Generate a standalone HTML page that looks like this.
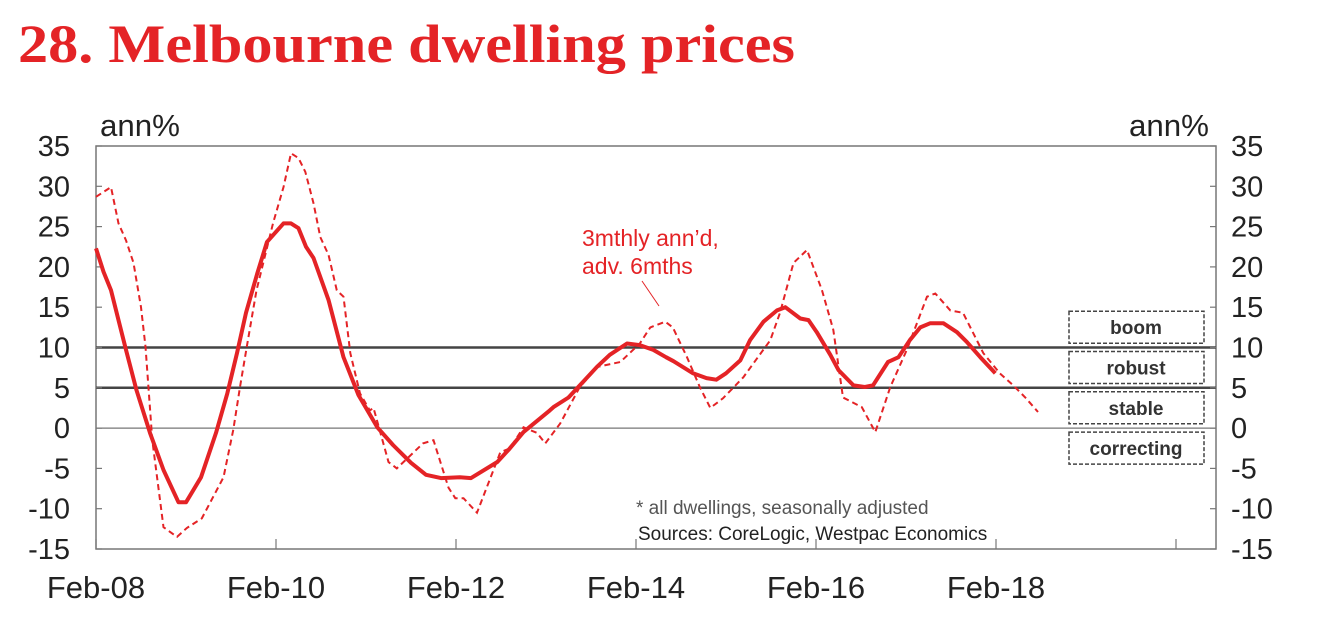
<!DOCTYPE html>
<html><head><meta charset="utf-8"><style>
html,body{margin:0;padding:0;background:#fff;width:1318px;height:620px;overflow:hidden}
svg{display:block;font-family:"Liberation Sans",Arial,sans-serif}
</style></head><body>
<svg id="chart" width="1318" height="620" viewBox="0 0 1318 620">
<text x="18" y="62" font-family="Liberation Serif,serif" font-weight="bold" font-size="54" fill="#e42326" textLength="777" lengthAdjust="spacingAndGlyphs">28. Melbourne dwelling prices</text>
<g id="axes"></g>
<g id="series"></g>
<text x="100" y="136" font-size="31" fill="#222" textLength="80" lengthAdjust="spacingAndGlyphs">ann%</text>
<text x="1129" y="136" font-size="31" fill="#222" textLength="80" lengthAdjust="spacingAndGlyphs">ann%</text>
<text x="582" y="246" font-size="23" fill="#e42326">3mthly ann’d,</text>
<text x="582" y="274" font-size="23" fill="#e42326">adv. 6mths</text>
<line x1="642" y1="281" x2="659" y2="306" stroke="#e42326" stroke-width="1"/>
<text x="636" y="514" font-size="19" fill="#555">* all dwellings, seasonally adjusted</text>
<text x="638" y="540" font-size="19" fill="#222">Sources: CoreLogic, Westpac Economics</text>
<g id="zones"></g>
</svg>
<script>
const yTicks=[35,30,25,20,15,10,5,0,-5,-10,-15];
const xTickLabels=["Feb-08","Feb-10","Feb-12","Feb-14","Feb-16","Feb-18",""];
const xTickMonths=[0,24,48,72,96,120,144];
const solidMonths=[0,1,2,3,4,5.4,7.2,9,11,12,14,16,17.5,18.8,20,21.5,22.8,25,26,27,28,29,31,33,35,37.5,39.6,42,44,46,48.5,50,53.5,55,57,60.5,61,63,64.5,66.8,68.5,70.8,72.5,74.3,76,77,79.6,81.4,82.7,84,85.9,87.2,89,90.8,91.9,93.9,95,96.1,97.9,99,101,102.5,103.6,105.6,107,108.5,109.9,111.2,113,114.8,116.1,117.9,119.9];
const solidValues=[22.3,19.4,17.1,13.4,9.7,4.7,-0.6,-5.2,-9.2,-9.2,-6.1,-0.6,4.3,9.3,14.3,19.2,23.1,25.4,25.4,24.8,22.5,21.1,15.9,8.8,4.1,0.1,-2.1,-4.3,-5.8,-6.2,-6.1,-6.2,-4.2,-2.7,-0.5,2.2,2.6,3.8,5.3,7.6,9.1,10.5,10.3,9.7,8.8,8.3,6.8,6.2,6.0,6.8,8.4,10.9,13.2,14.6,15.0,13.6,13.4,11.9,9.1,7.2,5.3,5.1,5.3,8.2,8.8,10.9,12.5,13.0,13.0,11.9,10.7,8.8,6.8];
const dashMonths=[0,2,3,4,5,6,6.6,7.5,9,10.8,12.1,14.1,17,18.3,19.2,20.1,21.4,23.6,25,26,27,27.9,29,29.9,31,32.1,33,33.9,35.2,36.5,37,39,40.1,43.6,45,47,47.9,49,50.8,53.9,55.2,57,58.8,59.9,61.9,64.5,66.9,69.9,72.5,73.9,75.9,76.9,78.8,80.5,81.9,83.6,86.3,89.9,91.2,93,94.8,96.8,98.3,99.6,102.1,103.9,105.9,108.1,110.8,111.9,113.9,115.6,118.3,120.5,122.3,123.9,125.6];
const dashValues=[28.7,29.9,25.4,23.3,20.5,15.0,10.1,-1.5,-12.3,-13.5,-12.4,-11.2,-6.1,-0.2,5.1,10.1,17.1,25.4,29.9,34.1,33.5,31.8,27.9,23.7,21.5,17.1,16.3,9.3,4.3,2.2,2.5,-4.2,-5.0,-1.9,-1.5,-7.4,-8.7,-8.7,-10.5,-3.0,-2.5,0.1,-0.6,-1.9,0.6,5.1,7.6,8.2,10.5,12.5,13.2,12.5,8.8,5.1,2.5,3.7,6.3,10.9,14.3,20.5,22.1,17.1,12.2,3.8,2.6,-0.5,5.1,9.7,16.3,16.7,14.6,14.3,9.3,6.8,5.3,3.8,2.0];
const zoneLabels=["boom","robust","stable","correcting"];
const zoneTops=[15,10,5,0];

const NS="http://www.w3.org/2000/svg";
const L=96,R=1216,T=146,B=549;
const x=m=>L+m*7.5;
const y=v=>T+(35-v)*(B-T)/50;
function mk(tag,attrs,parent,txt){const e=document.createElementNS(NS,tag);for(const k in attrs)e.setAttribute(k,attrs[k]);if(txt!==undefined)e.textContent=txt;parent.appendChild(e);return e;}
const ax=document.getElementById('axes'),se=document.getElementById('series'),zn=document.getElementById('zones');

let e=mk('rect',{x:L,y:T,width:R-L,height:B-T,fill:'none',stroke:'#777','stroke-width':1.5},ax);


e=mk('line',{x1:L,x2:R,y1:y(0),y2:y(0),stroke:'#777','stroke-width':1.2},ax);


[10,5].forEach(v=>{
  const l=mk('line',{x1:L,x2:R,y1:y(v),y2:y(v),stroke:'#444','stroke-width':2.5},ax);
  
  
});
yTicks.forEach(v=>{
  const t1=mk('line',{x1:L,x2:L+6,y1:y(v),y2:y(v),stroke:'#777','stroke-width':1.2},ax);
  
  
  const t2=mk('line',{x1:R-6,x2:R,y1:y(v),y2:y(v),stroke:'#777','stroke-width':1.2},ax);
  
  
  const a=mk('text',{x:70,y:y(v)+10,'text-anchor':'end','font-size':29,fill:'#222'},ax,String(v));
  
  
  const b=mk('text',{x:1231,y:y(v)+10,'font-size':29,fill:'#222'},ax,String(v));
  
  
});
xTickMonths.forEach((m,i)=>{
  const t=mk('line',{x1:x(m),x2:x(m),y1:B-10,y2:B,stroke:'#777','stroke-width':1.2},ax);
  
  
  const lb=mk('text',{x:x(m),y:598,'text-anchor':'middle','font-size':31,fill:'#222'},ax,xTickLabels[i]);
  
  
});
function path(ms,vs){return ms.map((m,i)=>(i?'L':'M')+x(m).toFixed(1)+','+y(vs[i]).toFixed(1)).join('');}
e=mk('path',{d:path(dashMonths,dashValues),fill:'none',stroke:'#e42326','stroke-width':2,'stroke-dasharray':'6,4'},se);


e=mk('path',{d:path(solidMonths,solidValues),fill:'none',stroke:'#e42326','stroke-width':4,'stroke-linejoin':'round'},se);


zoneLabels.forEach((lab,i)=>{
  const top=y(zoneTops[i])+4;
  const r=mk('rect',{x:1069,y:top,width:135,height:32,fill:'#fff',stroke:'#444','stroke-width':1.5,'stroke-dasharray':'4,2'},zn);
  
  
  const t=mk('text',{x:1136,y:top+23,'text-anchor':'middle','font-size':19,'font-weight':'bold',fill:'#333'},zn,lab);
  
  
});
</script>
</body></html>
